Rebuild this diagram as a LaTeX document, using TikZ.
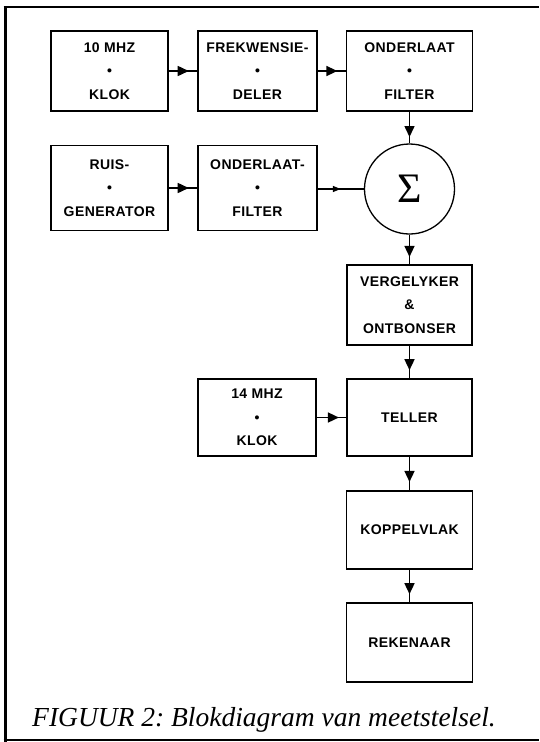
\documentclass[tikz,border=0pt]{standalone}
\usepackage{fontspec}
\setmainfont{Liberation Serif}
\newfontfamily\boxfont{Liberation Sans}[LetterSpace=3]
\usetikzlibrary{arrows.meta,decorations.markings}
\tikzset{
  blk/.style={draw, line width=1.3pt, rectangle, inner sep=0pt, align=center,
    font=\boxfont\bfseries\fontsize{14}{23.5}\selectfont},
  conn/.style={line width=1.5pt, postaction={decorate},
    decoration={markings, mark=at position #1 with {\arrow{Triangle[length=11pt,width=10pt]}}}},
  smallconn/.style={line width=1.5pt, postaction={decorate},
    decoration={markings, mark=at position #1 with {\arrow{Triangle[length=8pt,width=6pt]}}}},
  frameline/.style={line width=#1}
}
\begin{document}
\frenchspacing
\begin{tikzpicture}[x=1pt,y=-1pt]
\useasboundingbox (0,0) rectangle (539,742);
% frame
\draw[frameline=3pt] (5,742) -- (5,7);
\draw[frameline=2.5pt] (3.5,7) -- (539,7);
\draw[frameline=1.5pt] (3.5,740) -- (539,740);

% row 1
\node[blk, minimum width=117pt, minimum height=80pt] (klok10) at (109.5,71) {10 MHZ\\•\\KLOK};
\node[blk, minimum width=119pt, minimum height=80pt] (deler) at (257.5,71) {FREKWENSIE-\\•\\DELER};
\node[blk, minimum width=126pt, minimum height=80pt] (filter1) at (409.5,71) {ONDERLAAT\\•\\FILTER};
% row 2
\node[blk, minimum width=117pt, minimum height=85pt] (ruis) at (109.5,188) {RUIS-\\•\\GENERATOR};
\node[blk, minimum width=119pt, minimum height=85pt] (filter2) at (257.5,188) {ONDERLAAT-\\•\\FILTER};
\node[draw, circle, line width=1.3pt, minimum size=90pt, inner sep=0pt,
      font=\fontsize{42}{42}\selectfont] (sum) at (409.5,189) {Σ};
% column
\node[blk, minimum width=125pt, minimum height=80pt] (verg) at (409.5,305) {VERGELYKER\\\&\\ONTBONSER};
\node[blk, minimum width=118pt, minimum height=77pt] (klok14) at (257,417.5) {14 MHZ\\•\\KLOK};
\node[blk, minimum width=125pt, minimum height=77pt] (teller) at (409.5,417.5) {TELLER};
\node[blk, minimum width=126pt, minimum height=78pt] (koppel) at (409.5,530) {KOPPELVLAK};
\node[blk, minimum width=126pt, minimum height=79pt] (reken) at (409.5,642.5) {REKENAAR};

% connectors
\draw[conn=0.7] (klok10.east) -- (deler.west);
\draw[conn=0.7] (deler.east) -- (filter1.west);
\draw[conn=0.8] (filter1.south) -- (sum.north);
\draw[conn=0.7] (ruis.east) -- (filter2.west);
\draw[smallconn=0.5] (filter2.east |- sum.west) -- (sum.west);
\draw[conn=0.75] (sum.south) -- (verg.north);
\draw[conn=0.75] (verg.south) -- (teller.north);
\draw[conn=0.75] (klok14.east) -- (teller.west);
\draw[conn=0.75] (teller.south) -- (koppel.north);
\draw[conn=0.75] (koppel.south) -- (reken.north);

% caption
\node[anchor=base west, inner sep=0pt, font=\itshape\fontsize{27.5}{30}\selectfont] (caption) at (32,726) {FIGUUR 2: Blokdiagram van meetstelsel.};
\end{tikzpicture}
\end{document}
